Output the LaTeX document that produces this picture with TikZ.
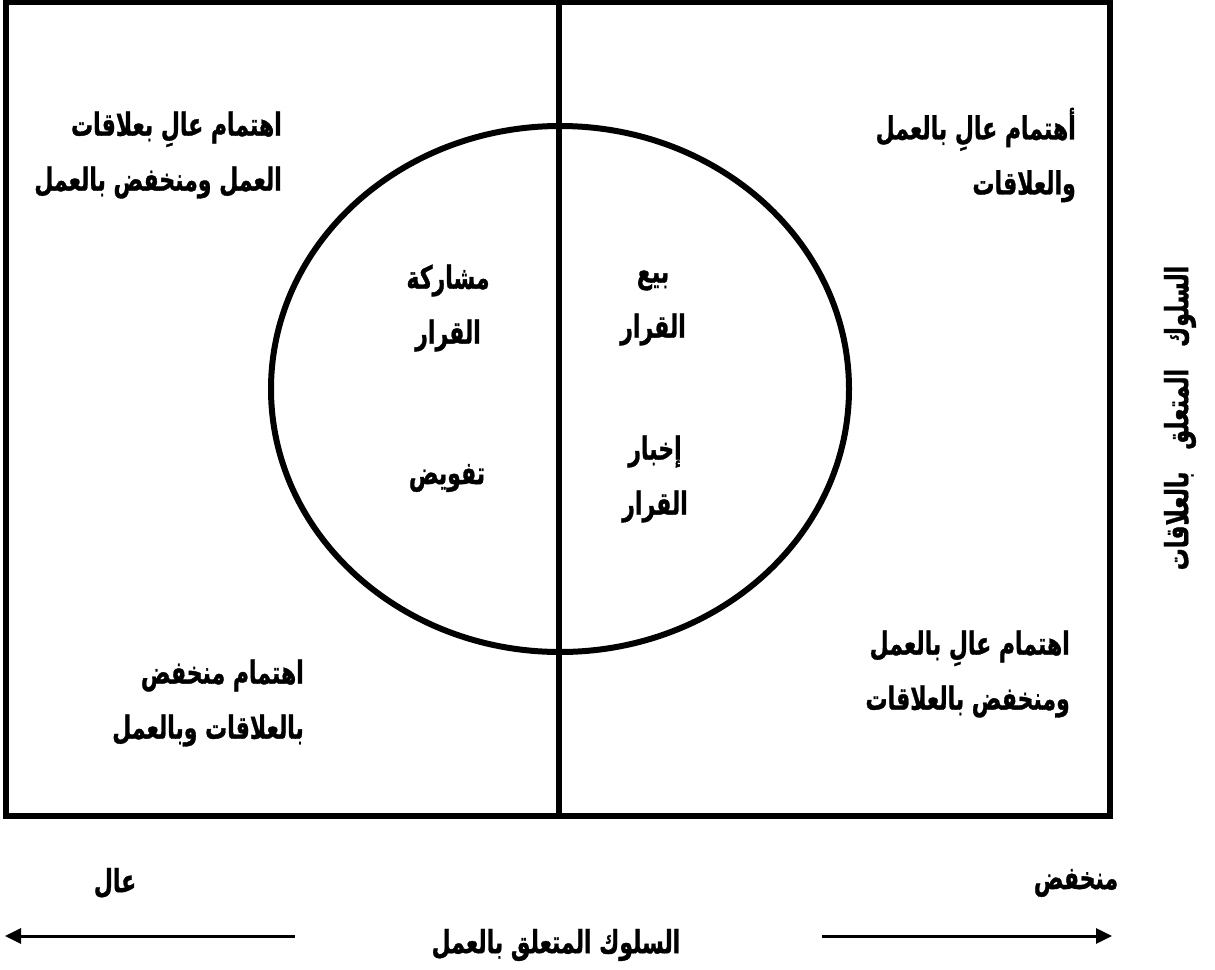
\documentclass[tikz,border=0pt]{standalone}
\usepackage{graphicx}
\usepackage{fontspec}
\usetikzlibrary{arrows.meta}
\newfontfamily\arabicfont[Script=Arabic, BoldFeatures={FakeBold=1.2}]{DejaVu Sans}
\TeXXeTstate=1
\newcommand\artext[1]{\scalebox{1}[1.45]{\beginR #1\endR}}
\tikzset{
  frame/.style={line width=6pt},
  divider/.style={line width=5.5pt},
  ring/.style={line width=6pt},
  lbl/.style={font=\arabicfont\bfseries\fontsize{22}{55}\selectfont, inner sep=0pt},
  lblr/.style={lbl, align=right, anchor=east},
  lblc/.style={lbl, align=center},
  axisarrow/.style={line width=3pt, -{Triangle[length=16pt,width=15pt]}}
}
\begin{document}
\begin{tikzpicture}[x=1pt,y=-1pt]
\useasboundingbox (0,0) rectangle (1215,969);
% frame
\coordinate (tl) at (5.5,1.5);
\coordinate (br) at (1110,816);
\coordinate (mt) at (559,1.5);
\coordinate (mb) at (559,816);
\draw[frame] (tl) rectangle (br);
\draw[divider] (mt) -- (mb);
% ellipse
\coordinate (c) at (560,389);
\draw[ring] (c) ellipse [x radius=289, y radius=263];
% quadrant labels
\node[lblr] (tlq) at (282,155) {\artext{اهتمام عالِ بعلاقات}\\\artext{العمل ومنخفض بالعمل}};
\node[lblr] (trq) at (1076,155) {\artext{أهتمام عالِ بالعمل}\\\artext{والعلاقات}};
\node[lblr] (blq) at (304,703) {\artext{اهتمام منخفض}\\\artext{بالعلاقات وبالعمل}};
\node[lblr] (brq) at (1070,674) {\artext{اهتمام عالِ بالعمل}\\\artext{ومنخفض بالعلاقات}};
% inner labels
\node[lblc] (share) at (448,308) {\artext{مشاركة}\\\artext{القرار}};
\node[lblc] (sell) at (653,308) {\artext{بيع}\\\artext{القرار}};
\node[lblc] (tell) at (655,479) {\artext{إخبار}\\\artext{القرار}};
\node[lblc] (deleg) at (447,478) {\artext{تفويض}};
% vertical axis label
\node[lblc, rotate=90] (rel) at (1180,418) {\artext{السلوك\hspace{22pt}المتعلق\hspace{22pt}بالعلاقات}};
% bottom labels
\node[lblc] (high) at (115,883) {\artext{عال}};
\node[lblc] (low) at (1076,883) {\artext{منخفض}};
\node[lblc] (task) at (556,945) {\artext{السلوك المتعلق بالعمل}};
% arrows
\coordinate (la) at (295,936);
\coordinate (lt) at (5,936);
\coordinate (ra) at (822,936);
\coordinate (rt) at (1112,936);
\draw[axisarrow] (la) -- (lt);
\draw[axisarrow] (ra) -- (rt);
\end{tikzpicture}
\end{document}
